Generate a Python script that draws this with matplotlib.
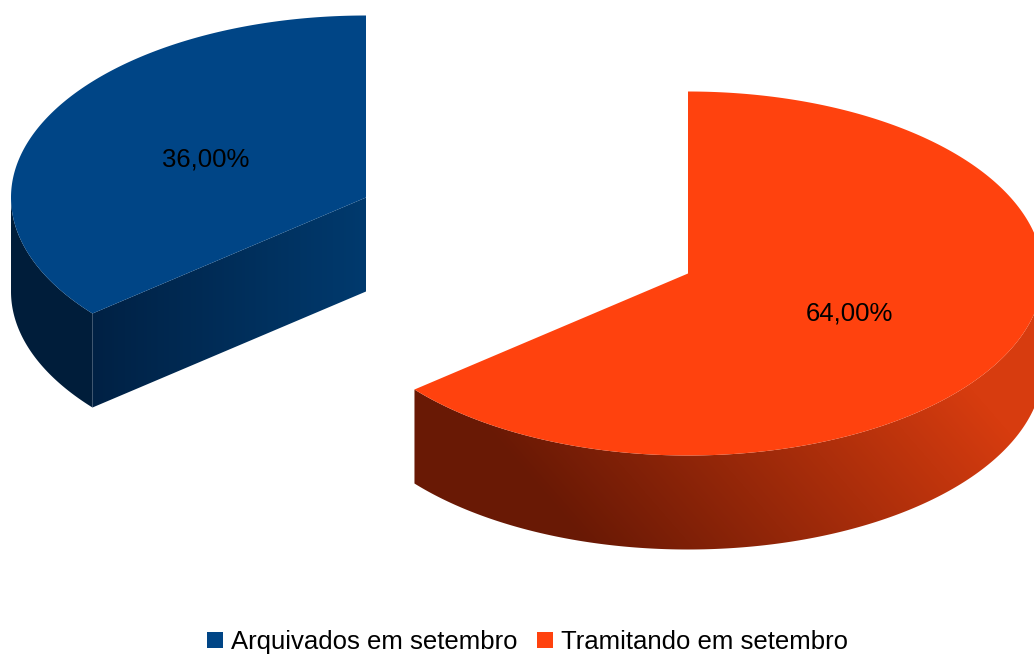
import numpy as np
import matplotlib
matplotlib.use('Agg')
import matplotlib.pyplot as plt
from matplotlib.patches import Patch, Polygon

labels = ['Arquivados em setembro', 'Tramitando em setembro']
shares = [36.0, 64.0]
pct_labels = ['36,00%', '64,00%']
top_colors = ['#004586', '#FF420E']

# pixel geometry of the exploded 3D pie
rx = 355
ry = 182
depth = 94
center_blue = (366, 197.5)
center_orange = (688, 273.5)

plt.rcParams['font.family'] = ['Liberation Sans', 'DejaVu Sans']

fig = plt.figure(figsize=(10.34, 6.54), dpi=100)
ax = fig.add_axes([0, 0, 1, 1])
ax.set_xlim(0, 1034)
ax.set_ylim(654, 0)
ax.axis('off')


def rim(center, a0, a1, n=300):
    # angles clockwise from 12 o'clock, in degrees
    a = np.radians(np.linspace(a0, a1, n))
    return np.column_stack([center[0] + rx * np.sin(a), center[1] - ry * np.cos(a)])


def shade(poly, func):
    # gradient image clipped to a polygon
    xs, ys = np.meshgrid(np.arange(0, 1034), np.arange(0, 654))
    img = np.clip(func(xs + 0.5, ys + 0.5), 0, 1)
    im = ax.imshow(img, extent=(0, 1034, 654, 0), aspect='auto', zorder=poly.get_zorder(), interpolation='bilinear')
    poly.set_facecolor('none')
    poly.set_edgecolor('none')
    ax.add_patch(poly)
    im.set_clip_path(poly)


def lerp(t, c0, c1):
    t = np.clip(t, 0, 1)[..., None]
    return (np.array(c0) + (np.array(c1) - np.array(c0)) * t) / 255


blue_angle = shares[0] / 100 * 360
orange_angle = shares[1] / 100 * 360

# blue slice, going counter clockwise from the top
blue_rim = rim(center_blue, -blue_angle, 0)
blue_top = np.vstack([blue_rim, [center_blue]])
cut_a = blue_rim[0]
cut_b = np.array(center_blue)

# outer wall of blue, only the part below the widest point shows
wall = rim(center_blue, -blue_angle, -90)
wall_poly = np.vstack([wall, wall[::-1] + [0, depth]])
ax.add_patch(Polygon(wall_poly, closed=True, fc='#001D3A', ec='none', zorder=1))

# cut face of blue
cut_poly = np.array([cut_a, cut_b, cut_b + [0, depth], cut_a + [0, depth]])
shade(Polygon(cut_poly, closed=True, zorder=2),
      lambda x, y: lerp((x - 92) / 274, (0, 33, 68), (0, 58, 110)))

ax.add_patch(Polygon(blue_top, closed=True, fc=top_colors[0], ec='none', zorder=3))

# orange slice, clockwise from the top
orange_rim = rim(center_orange, 0, orange_angle)
orange_top = np.vstack([[center_orange], orange_rim])
front = rim(center_orange, 90, orange_angle)
front_poly = np.vstack([front, front[::-1] + [0, depth]])
shade(Polygon(front_poly, closed=True, zorder=1),
      lambda x, y: lerp((x - 0.87 * y - 113) / 520, (105, 25, 5), (215, 60, 15)))
ax.add_patch(Polygon(orange_top, closed=True, fc=top_colors[1], ec='none', zorder=3))

ax.text(205.5, 159.5, pct_labels[0], fontsize=18.5, ha='center', va='center', color='black', zorder=5)
ax.text(849, 314, pct_labels[1], fontsize=18.5, ha='center', va='center', color='black', zorder=5)

handles = [Patch(facecolor=c, edgecolor='none') for c in top_colors]
fig.legend(handles, labels, loc='center', bbox_to_anchor=(527.5 / 1034, 1 - 642 / 654), ncol=2,
           frameon=False, fontsize=18.5, handlelength=0.62, handleheight=0.62,
           handletextpad=0.3, columnspacing=0.75, borderpad=0, borderaxespad=0)

ax.set_xlim(0, 1034)
ax.set_ylim(654, 0)
fig.savefig('out.png', dpi=100)
